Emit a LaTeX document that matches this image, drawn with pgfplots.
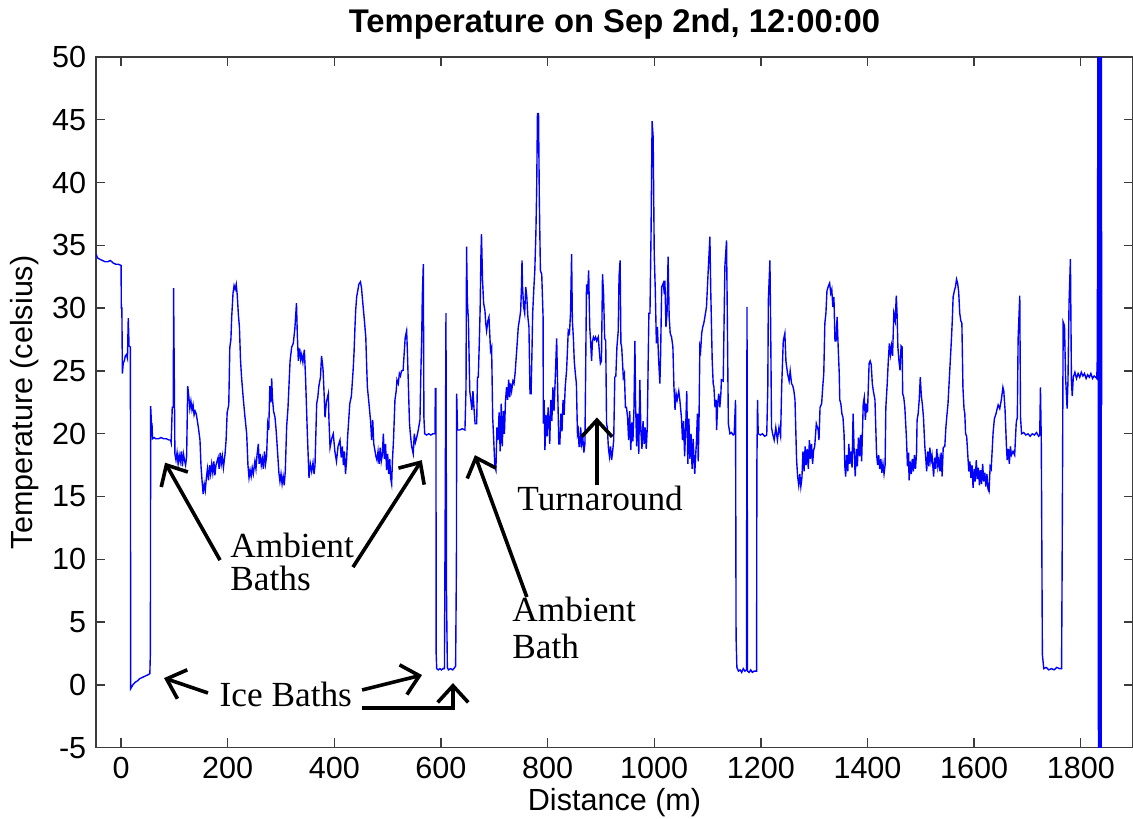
\documentclass[border=0pt]{standalone}
\usepackage{fontspec}
\setmainfont{Liberation Sans}
\newfontfamily\timesf{Liberation Serif}
\usepackage{pgfplots}
\pgfplotsset{compat=1.18}
\usetikzlibrary{calc,arrows.meta}
\definecolor{mblue}{RGB}{0,0,255}
\definecolor{frame}{RGB}{60,60,60}
\begin{document}
\begin{tikzpicture}
\begin{axis}[
  name=ax,
  scale only axis,
  width=373.3pt, height=248.65pt,
  xmin=-47, xmax=1898, ymin=-5, ymax=50,
  xtick={0,200,...,1800}, ytick={-5,0,...,50},
  tick align=inside, major tick length=3.4pt,
  axis line style={frame, line width=0.5pt},
  every tick/.style={frame, line width=0.5pt},
  /pgf/number format/assume math mode=true,
  /pgf/number format/1000 sep={},
  tick label style={font=\fontsize{11}{13}\selectfont},
  xlabel={Distance (m)}, ylabel={Temperature (celsius)},
  label style={font=\fontsize{11}{13}\selectfont},
  xlabel style={yshift=3.5pt},
  ylabel style={yshift=-2pt},
  title={Temperature on Sep 2nd, 12:00:00},
  title style={font=\bfseries\fontsize{11.8}{14}\selectfont, yshift=-3pt},
  clip mode=individual,
]
\addplot[mblue, line width=0.5pt] table {
x y
-47 34.3
-44 34.0
-40 33.9
-35 33.8
-30 33.7
-25 33.7
-20 33.8
-15 33.6
-10 33.5
-5 33.5
0 33.4
0.5 30.0
1.5 30.0
2.5 24.8
4 25.6
6 25.8
8 26.2
10 26.3
12 26.0
13.5 29.2
15 27.0
17.5 26.9
18 -0.3
22 0.0
26 0.2
30 0.3
35 0.5
40 0.6
45 0.7
50 0.8
54 0.9
55 2.6
55.5 22.2
57 20.8
58 20.8
59 19.6
62 19.7
65 19.6
70 19.6
75 19.7
80 19.6
85 19.6
90 19.5
93 19.5
94 19.3
96 22.1
98 22.1
98.5 31.6
99.5 26.2
101 18.4
103 17.9
105 18.5
107 17.6
109 18.3
111 17.8
113 18.6
115 17.4
117 18.4
119 17.9
121 17.5
123 18.2
125 23.8
127 23.0
129 22.0
131 22.6
133 21.9
135 22.3
137 21.5
139 21.8
141 21.6
145 20.5
148 19.5
150 17.4
152 16.2
154 15.2
156 16.0
158 15.5
160 16.5
162 17.2
164 16.3
166 17.5
168 16.8
170 17.6
172 16.9
174 17.8
176 16.7
178 17.5
182 18.1
184 17.2
186 18.5
188 17.6
190 18.2
192 17.3
195 18.4
197 19.5
199 21.7
202 22.3
204 26.9
206 27.5
207.5 29.3
210 31.2
212 31.8
214 31.5
216 31.9
218 31.0
220 29.5
222 28.5
224 25.9
226 24.5
229 22.9
232 21.5
235.6 20.0
238 17.5
240 16.5
242 17.1
244 16.6
246 17.3
248 16.8
251 17.8
253 17.2
255 18.3
257.5 19.2
259 17.6
261 18.4
263 17.5
265 18.0
267 17.2
269 18.6
271 17.6
273 18.2
275 20.8
277 20.3
279 23.8
281 22.5
282.5 24.4
284 22.8
286 21.8
288.75 21.3
291 20.2
293.75 18.4
296 16.9
298 16.2
300 16.8
302 16.0
304 16.6
306 15.9
308 17.0
310.6 20.6
313 22.0
317 25.8
320 26.9
323 27.2
326 28.4
329 30.4
330.5 28.0
332.5 25.8
335 26.8
337 25.9
338.75 26.3
341 25.7
343.75 26.7
346 24.5
349.4 20.0
352.5 16.5
355 17.6
357.5 17.0
360 17.7
362 16.8
363.75 17.5
366.9 22.4
369 22.9
371 23.8
374 24.5
376 26.2
378 25.5
379 25.0
381 23.0
382.5 21.3
385 22.5
388.75 23.2
390 21.0
392 18.9
395 19.6
398 20.0
401 18.6
404 17.8
407 19.0
410.6 19.5
413 18.1
415 19.0
417 17.5
419 18.6
421 16.8
423 17.9
425 19.8
427 21.1
429 22.4
432 23.0
435.6 25.3
437 26.5
438.7 28.5
440 29.8
441.9 30.9
444 31.4
446 31.9
449 32.1
451 31.6
453 30.6
456 29.2
459 27.7
460.5 25.6
462 23.7
465 22.4
468 21.0
470 19.5
472 21.1
474 19.2
476 18.7
478 18.2
480 17.9
482 18.6
484 17.6
486 18.9
488 17.8
490 18.3
491.9 20.0
494 18.0
496 19.2
498 17.1
500 18.4
502 16.8
504 18.0
505.5 16.5
507.5 16.0
509 17.9
511 19.5
513.7 22.7
516 23.4
517.5 24.3
520 24.0
522 24.8
524 24.6
526 25.0
529 25.05
531 26.4
533 27.7
535.6 28.2
537 26.6
539 23.7
541 20.8
543 19.8
545 19.0
548 18.4
550 20.0
552 19.3
554.5 19.7
557 20.2
560.6 21.1
562 24.3
564 28.0
565 30.9
566.9 33.5
568 21.3
569.5 20.0
573 19.9
577 20.0
581 19.9
585 20.0
588.7 20.0
589.5 23.6
590.6 23.6
591 2.5
592 1.3
595 1.2
598 1.3
601 1.2
604 1.3
606.5 1.3
608 14.6
609.4 29.6
610.5 6.7
612 1.4
614 1.2
618 1.3
622 1.2
626 1.4
627.5 1.5
629 9.8
629.5 23.2
631 20.3
635 20.3
640 20.4
645 20.3
647 23.7
648 34.9
649.5 30.6
651.5 29.0
654 23.4
656 22.7
658 21.9
660 23.4
662 22.0
664 20.8
667 20.8
668.5 24.5
670 24.5
672 27.4
673.5 30.0
675 34.3
676 35.9
678 32.2
680 30.4
682.5 29.8
684 28.8
685.6 28.2
688 29.0
690 29.3
693 26.6
695 26.9
697 21.3
699 19.5
701 17.4
703 17.1
705 20.5
707 19.5
709 21.7
711 18.6
713 22.4
715 19.0
717 21.8
719 20.0
721 22.6
723 23.7
725 22.7
727 24.3
729 22.9
730.5 24.0
732.5 23.4
735 24.2
737 24.0
739 24.8
742 26.6
745 28.5
748 29.3
749.5 29.8
751 31.7
752 33.8
753 31.7
755 30.1
757 29.6
759 31.7
761 30.9
763 29.3
765 28.5
767 23.2
769 23.2
770.5 26.1
772 29.6
774 31.4
776 33.0
778 35.9
779.5 39.4
781 45.5
783 45.5
784.5 38.6
786.5 33.0
789 32.7
791.5 29.3
792 20.8
793.5 22.7
795 18.7
797 21.5
799 19.8
801 22.1
803 20.4
804 19.2
806 22.7
808 21.0
810 23.7
812 21.8
814 24.0
817 27.6
819 23.4
821 19.2
823 19.2
825 21.6
827 20.2
829 22.7
831 21.5
833 23.7
835.6 25.05
837 26.4
838.75 28.2
841 28.0
843 29.6
845 34.3
846.5 29.0
848.5 27.5
850 25.8
852 24.8
854 24.0
856 20.0
857.5 20.3
859 19.0
860.6 19.0
862 20.5
864 19.2
866 19.7
868 18.5
870 19.2
871 23.4
873 31.9
875 31.1
877 33.0
879 28.5
880.6 27.4
882.5 25.8
884 27.3
886 27.7
888 27.5
890 27.7
892 27.4
895 27.7
897 26.6
899 25.6
901 25.8
903 32.7
905 31.1
907 27.6
909 27.4
910.6 20.8
912 20.5
914 18.9
916 18.2
918 19.0
920 17.9
922 18.6
924 19.5
926 24.5
928 24.6
930 26.9
932.5 28.2
934 32.5
936 33.8
937.5 27.2
939 26.9
941 25.3
942 24.5
944 24.8
946 22.1
948 22.1
950 21.3
952 19.5
954 21.8
956 18.7
958 20.9
960 19.4
962 22.0
963.75 27.4
965 22.5
967 19.0
969 21.6
971 18.4
973 24.3
975 20.2
977 18.8
979 21.0
981 19.2
983 20.5
985 18.8
987 20.5
988.75 26.1
990 29.6
992 29.6
994 35.9
996 44.9
998 43.6
1000 34.3
1002 31.4
1004 27.2
1006 28.5
1008 26.1
1010.6 24.0
1012 26.4
1014 31.7
1017 32.0
1019 31.1
1020 32.2
1022 28.5
1024 29.6
1026 34.1
1028 29.3
1030 28.0
1032.5 27.7
1035 26.9
1037 23.7
1039 21.9
1041 23.2
1043 22.7
1046 23.4
1048 22.7
1051 21.3
1053 19.5
1055 21.0
1057 18.2
1059 20.5
1061 23.4
1063 17.6
1065 21.2
1067 18.0
1069 20.0
1071 17.2
1073 19.6
1075 17.5
1076 16.8
1078 18.5
1079 19.2
1081 21.6
1082.5 17.8
1084 21.1
1085.6 26.9
1087 26.6
1089 28.0
1091 28.5
1093 28.8
1095 29.3
1098 30.1
1101.25 33.0
1104.4 35.7
1106 31.4
1108.75 25.8
1110.6 24.0
1112 23.7
1114 22.1
1116 22.7
1117 20.3
1119 22.4
1121 23.2
1123 22.1
1125 23.2
1126 24.3
1129.4 24.2
1132.5 33.3
1135.6 35.4
1137 29.6
1139 20.8
1142 20.0
1145 20.1
1148 19.9
1150 20.0
1151 21.1
1152.5 22.7
1153.5 3.8
1155 1.4
1158 1.1
1161 1.2
1164 1.0
1167 1.3
1170 1.1
1173 1.2
1174 30.1
1175 1.1
1178 1.0
1181 1.2
1184 1.0
1187 1.1
1190 1.1
1192 1.1
1192.5 17.4
1193.75 22.7
1195 20.0
1199 19.9
1203 20.0
1207 19.8
1211 19.9
1213 23.7
1214 30.6
1217 33.8
1218.5 28.0
1220 20.5
1222 20.0
1225 19.5
1228 20.5
1231 19.5
1234 20.5
1237 19.8
1239 23.7
1242 27.4
1245 28.0
1247 25.8
1250 24.8
1253 24.2
1255 25.0
1257.5 24.0
1260 23.8
1262 23.4
1264 22.7
1267 17.9
1269 16.6
1271 15.9
1273 16.8
1275 15.8
1277 16.5
1279 18.6
1281 17.0
1283 19.0
1285 17.5
1287 18.8
1289 17.2
1291 19.5
1293 18.0
1295 19.2
1297 17.6
1299 18.7
1301 19.0
1304 20.8
1307.5 20.3
1309 19.5
1311 22.1
1314 22.4
1316 23.7
1318 24.8
1320 28.8
1322 29.6
1324 31.4
1327 31.8
1329 32.0
1331 31.2
1333 31.5
1335 30.1
1337 30.9
1339 27.4
1341 27.4
1343 29.3
1345 26.9
1347 24.8
1348 22.7
1350 22.4
1352 21.6
1354 21.3
1356 20.0
1357.5 17.4
1359 16.6
1361 18.3
1363 17.0
1365 19.2
1367 17.6
1369 18.6
1371 17.3
1373 21.6
1375 18.5
1377 16.6
1379 18.8
1381 17.4
1383 19.7
1385 18.2
1387 19.9
1389 17.8
1392 22.4
1394 22.9
1396 21.1
1398 22.4
1400 21.7
1403 25.6
1405 25.8
1407 25.5
1409 24.0
1411 23.4
1414 22.7
1417 18.4
1419 17.5
1421 18.3
1423 17.2
1425 18.0
1427 16.9
1429 17.6
1431 16.8
1433 17.5
1434.4 22.1
1437 24.0
1439 25.8
1441 27.2
1443 26.3
1445 27.0
1447 26.2
1449.4 29.6
1452 29.0
1454 31.0
1455.5 29.5
1457 26.9
1459 25.8
1461 25.05
1463 27.0
1465 26.9
1466 23.2
1468 22.9
1470 22.1
1473 19.7
1475 17.4
1477 18.5
1478 16.3
1480 17.8
1482 16.8
1484 18.0
1486 17.0
1488 18.3
1490 17.2
1492 18.5
1493 21.1
1495 21.6
1497 22.7
1499 24.5
1501 23.0
1503 22.3
1505 21.3
1507.5 19.0
1509 18.2
1511 17.0
1513 18.6
1515 17.4
1517 18.9
1519 17.8
1521 18.3
1524 16.6
1526 18.1
1528 17.2
1530 18.8
1532 17.4
1534 18.0
1536 17.0
1538 18.5
1540 16.6
1542 18.9
1545 19.0
1547 20.5
1549 21.5
1551 22.4
1554 24.8
1557.5 27.6
1559 29.0
1560.6 30.9
1563 31.4
1565 31.7
1567 32.3
1569 32.0
1571 31.3
1573 29.6
1575 29.0
1577 28.8
1579 23.7
1581 22.0
1582.5 21.6
1584 20.0
1586 19.8
1588 18.4
1590 17.0
1592 17.8
1594 16.5
1596 17.5
1598 15.7
1600 17.2
1602 16.2
1604 17.9
1606 16.4
1608 17.3
1610 15.9
1612 17.1
1614 16.0
1616 17.6
1618 16.2
1620 16.9
1622 15.8
1624 16.8
1626 15.6
1628 15.4
1630 17.4
1632 17.2
1635.6 20.1
1638 21.2
1641 21.6
1645 22.3
1648 22.0
1651 22.7
1654 23.7
1655.6 23.4
1658 21.9
1660.6 19.0
1662 17.9
1664 18.8
1666 17.6
1668 19.0
1670 18.3
1673 18.6
1676 18.3
1679 20.9
1681 21.3
1682.5 27.6
1685.6 31.0
1687 21.3
1689 20.0
1693 20.1
1697 19.9
1701 20.0
1705 19.8
1709 20.0
1713 19.9
1717 20.1
1721 19.8
1723 19.9
1724.4 23.7
1726 19.2
1728 2.4
1730.6 1.3
1735 1.4
1740 1.2
1745 1.3
1750 1.2
1755 1.4
1760 1.3
1764 1.3
1765 9.1
1767 28.9
1769.5 28.6
1771.5 24.5
1774.4 22.0
1776 24.2
1778 30.4
1780.6 33.9
1782.5 24.2
1784 23.0
1786 24.5
1789 24.9
1792 24.4
1795 24.8
1798 24.5
1801 24.9
1804 24.6
1807 24.8
1810 24.4
1813 24.7
1816 24.5
1819 24.8
1822 24.4
1825 24.6
1828 24.5
1830 24.4
1831 26.0
1832 46.5
1832.6 60
1833.2 -10
1833.8 60
1834.4 -10
1835 60
1835.6 -10
1836.2 60
1836.8 -10
1837.4 60
1838 -10
1838.6 60
1839.2 22.3
};
% annotations
\begin{scope}[line width=1.3pt, -{Straight Barb[length=6pt,width=11pt]}]
\draw (axis cs:185.6,9.94) -- (axis cs:82.5,17.7);
\draw (axis cs:435,9.38) -- (axis cs:564,17.9);
\draw (axis cs:163,-0.64) -- (axis cs:80.6,0.55);
\draw (axis cs:452,-0.4) -- (axis cs:564.4,0.79);
\draw (axis cs:452,-1.83) -- (axis cs:622.5,-1.83) -- (axis cs:622.5,0.15);
\draw (axis cs:761,7.0) -- (axis cs:663.75,18.3);
\draw (axis cs:892.5,15.9) -- (axis cs:892.5,21.3);
\end{scope}
\begin{scope}[every node/.style={font=\timesf\fontsize{12.7}{15}\selectfont, anchor=base west, inner sep=0pt}]
\node at (axis cs:204,10.17) {Ambient};
\node at (axis cs:204,7.55) {Baths};
\node at (axis cs:184,-1.7) {Ice Baths};
\node at (axis cs:733,5.08) {Ambient};
\node at (axis cs:733,2.14) {Bath};
\node at (axis cs:742.5,13.9) {Turnaround};
\end{scope}
\end{axis}
\pgfresetboundingbox
\path[use as bounding box] ($(ax.south west)+(-34.56pt,-25.3pt)$) rectangle ($(ax.north east)+(0pt,20.52pt)$);
\end{tikzpicture}
\end{document}
